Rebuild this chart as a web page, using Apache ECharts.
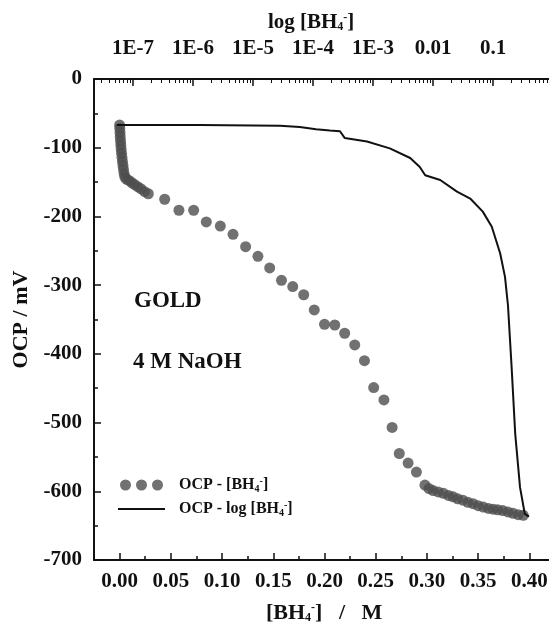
<!DOCTYPE html>
<html>
<head>
<meta charset="utf-8">
<script src="https://cdn.jsdelivr.net/npm/echarts@6/dist/echarts.min.js"></script>
<style>
  html, body { margin: 0; padding: 0; background: #fff; }
  #chart { width: 549px; height: 623px; }
</style>
</head>
<body>
<div id="chart"></div>
<script>
// OCP vs [BH4-] (dots, bottom axis) and OCP vs log[BH4-] (line, top axis)
const concM = [
  0.0000, 0.0002, 0.0004, 0.0006, 0.0009, 0.0012, 0.0015, 0.0019, 0.0023, 0.0028,
  0.0033, 0.0038, 0.0044, 0.0052, 0.0070, 0.0095, 0.0120, 0.0150, 0.0180, 0.0210,
  0.0245, 0.0280, 0.0440, 0.0579, 0.0723, 0.0846, 0.0983, 0.1107, 0.1230, 0.1350,
  0.1465, 0.1580, 0.1690, 0.1797, 0.1900, 0.2000, 0.2100, 0.2197, 0.2295, 0.2390,
  0.2480, 0.2580, 0.2660, 0.2730, 0.2816, 0.2897, 0.2980, 0.3020, 0.3060, 0.3110,
  0.3160, 0.3210, 0.3255, 0.3300, 0.3350, 0.3400, 0.3450, 0.3500, 0.3550, 0.3600,
  0.3646, 0.3690, 0.3740, 0.3790, 0.3840, 0.3890, 0.3940
];
const ocpConc = [
  -67, -72, -78, -84, -90, -96, -102, -108, -114, -120,
  -126, -132, -138, -143, -146, -148, -151, -154, -157, -160,
  -164, -167, -175, -191, -191, -208, -214, -226, -244, -258,
  -275, -293, -302, -314, -336, -357, -358, -370, -387, -410,
  -449, -467, -507, -545, -559, -572, -591, -596, -599, -601,
  -603, -606, -608, -611, -613, -616, -618, -621, -623, -625,
  -626, -627, -628, -630, -632, -634, -635
];
const logConc = [
  -7.27, -5.90, -4.55, -4.22, -3.95, -3.72, -3.55, -3.47, -3.10, -2.72,
  -2.38, -2.22, -2.13, -1.88, -1.60, -1.38, -1.17, -1.02, -0.88, -0.80,
  -0.75, -0.69, -0.63, -0.55, -0.47, -0.40
];
const ocpLog = [
  -67, -67, -68, -70, -73, -75, -76, -86, -91, -101,
  -115, -128, -140, -147, -164, -174, -193, -215, -254, -288,
  -330, -419, -516, -594, -633, -637
];
const bottomTicks = [0, 0.05, 0.10, 0.15, 0.20, 0.25, 0.30, 0.35, 0.40];
const bottomMinor = [0.025, 0.075, 0.125, 0.175, 0.225, 0.275, 0.325, 0.375];
const topTicks = [-7, -6, -5, -4, -3, -2, -1, 0];
const topTickLabels = ['1E-7', '1E-6', '1E-5', '1E-4', '1E-3', '0.01', '0.1', '1'];

const topMinor = [];
for (let n = -8; n <= -1; n++) {
  for (let k = 2; k <= 9; k++) {
    const v = n + Math.log10(k);
    if (v > -7.65 && v < 0) topMinor.push(v);
  }
}

const font = 'Liberation Serif';
const ink = '#111';
const richBH = {
  sub: { fontSize: 12, fontWeight: 'bold', fontFamily: font, verticalAlign: 'bottom', padding: [7, 0, 0, 0] },
  sup: { fontSize: 12, fontWeight: 'bold', fontFamily: font, verticalAlign: 'top' }
};
const labelStyle = { color: ink, fontFamily: font, fontWeight: 'bold', fontSize: 21 };
const lineStyle = { color: ink, width: 2 };

const chart = echarts.init(document.getElementById('chart'), null, { renderer: 'canvas' });

chart.setOption({
  animation: false,
  backgroundColor: '#fff',
  grid: { left: 94, top: 79, width: 460.2, height: 481, outerBoundsMode: 'none', containLabel: false },
  legend: {
    orient: 'vertical',
    left: 118,
    top: 476,
    padding: 0,
    itemGap: 6,
    itemWidth: 47,
    itemHeight: 11,
    data: [
      { name: 'dots', icon: 'path://M0,5.5a5.5,5.5 0 1,0 11,0a5.5,5.5 0 1,0 -11,0M16,5.5a5.5,5.5 0 1,0 11,0a5.5,5.5 0 1,0 -11,0M32,5.5a5.5,5.5 0 1,0 11,0a5.5,5.5 0 1,0 -11,0' },
      { name: 'line', icon: 'path://M0,0H47V2H0Z' }
    ],
    formatter: function (name) {
      return name === 'dots' ? 'OCP - [BH{sub|4}{sup|-}]' : 'OCP - log [BH{sub|4}{sup|-}]';
    },
    textStyle: {
      color: ink, fontFamily: font, fontWeight: 'bold', fontSize: 16, lineHeight: 18,
      padding: [0, 0, 0, 9],
      rich: {
        sub: { fontSize: 10, fontWeight: 'bold', fontFamily: font, verticalAlign: 'bottom', padding: [6, 0, 0, 0] },
        sup: { fontSize: 10, fontWeight: 'bold', fontFamily: font, verticalAlign: 'top' }
      }
    }
  },
  xAxis: [
    {
      type: 'value', position: 'bottom', min: -0.025, max: 0.4242,
      name: '[BH{sub|4}{sup|-}]   /   M', nameLocation: 'middle', nameGap: 42,
      nameTextStyle: { color: ink, fontFamily: font, fontWeight: 'bold', fontSize: 22, rich: richBH },
      axisLine: { show: true, onZero: false, lineStyle: lineStyle },
      axisTick: { show: true, inside: true, length: 7, customValues: bottomTicks, lineStyle: { color: ink, width: 1.5 } },
      axisLabel: Object.assign({ margin: 11, customValues: bottomTicks, formatter: v => v.toFixed(2) }, labelStyle),
      splitLine: { show: false }
    },
    {
      type: 'value', position: 'bottom', min: -0.025, max: 0.4242,
      axisLine: { show: false, onZero: false },
      axisTick: { show: true, inside: true, length: 4, customValues: bottomMinor, lineStyle: { color: ink, width: 1.5 } },
      axisLabel: { show: false },
      splitLine: { show: false }
    },
    {
      type: 'value', position: 'top', min: -7.65, max: 0.02,
      name: 'log [BH{sub|4}{sup|-}]', nameLocation: 'middle', nameGap: 46,
      nameTextStyle: { color: ink, fontFamily: font, fontWeight: 'bold', fontSize: 21, rich: richBH, padding: [0, 26, 0, 0] },
      axisLine: { show: true, onZero: false, lineStyle: lineStyle },
      axisTick: { show: true, inside: true, length: 7, customValues: topTicks, lineStyle: { color: ink, width: 1.5 } },
      axisLabel: Object.assign({
        margin: 20, customValues: topTicks, showMaxLabel: true,
        formatter: v => topTickLabels[topTicks.indexOf(Math.round(v))]
      }, labelStyle),
      splitLine: { show: false }
    },
    {
      type: 'value', position: 'top', min: -7.65, max: 0.02,
      axisLine: { show: false, onZero: false },
      axisTick: { show: true, inside: true, length: 4, customValues: topMinor, lineStyle: { color: ink, width: 1 } },
      axisLabel: { show: false },
      splitLine: { show: false }
    }
  ],
  yAxis: {
    type: 'value', min: -700, max: 0, interval: 100,
    name: 'OCP / mV', nameLocation: 'middle', nameGap: 61,
    nameTextStyle: { color: ink, fontFamily: font, fontWeight: 'bold', fontSize: 22 },
    axisLine: { show: true, onZero: false, lineStyle: lineStyle },
    axisTick: { show: true, inside: true, length: 7, lineStyle: { color: ink, width: 1.5 } },
    minorTick: { show: true, splitNumber: 2, length: 4, lineStyle: { color: ink, width: 1.5 } },
    axisLabel: Object.assign({ margin: 12 }, labelStyle),
    splitLine: { show: false },
    minorSplitLine: { show: false }
  },
  graphic: [
    { type: 'text', left: 134, top: 290, style: { text: 'GOLD', fill: ink, font: 'bold 23px "Liberation Serif"' } },
    { type: 'text', left: 133, top: 351, style: { text: '4 M NaOH', fill: ink, font: 'bold 23px "Liberation Serif"' } }
  ],
  series: [
    {
      name: 'dots', type: 'scatter', xAxisIndex: 0,
      symbol: 'circle', symbolSize: 11,
      itemStyle: { color: '#4d4d4d' },
      data: concM.map((c, i) => [c, ocpConc[i]])
    },
    {
      name: 'line', type: 'line', xAxisIndex: 2,
      symbol: 'none', smooth: false,
      lineStyle: { color: ink, width: 2 },
      itemStyle: { color: ink },
      data: logConc.map((l, i) => [l, ocpLog[i]])
    }
  ]
});
</script>
</body>
</html>
